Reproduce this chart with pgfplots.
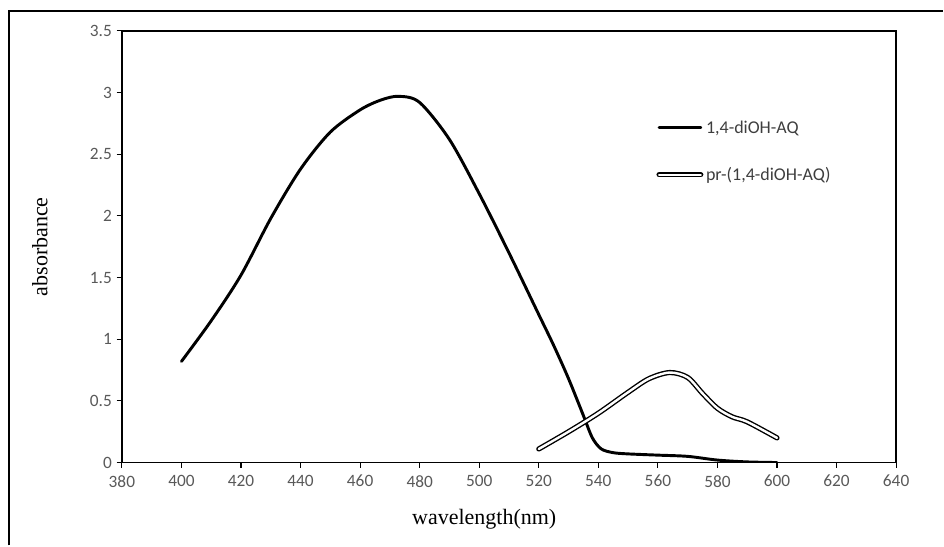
\documentclass[border=0pt]{standalone}
\usepackage{pgfplots}
\pgfplotsset{compat=1.18}
\usepackage{fontspec}
\setmainfont{Liberation Serif}
\newfontfamily\calib{Carlito}
\definecolor{tickgray}{HTML}{595959}
\begin{document}
\begin{tikzpicture}
\begin{axis}[
  name=ax,
  scale only axis,
  width=581.25pt, height=324pt,
  xmin=380, xmax=640, ymin=0, ymax=3.5,
  xtick={380,400,...,640},
  ytick={0,0.5,...,3.5},
  yticklabels={0,0.5,1,1.5,2,2.5,3,3.5},
  xtick pos=bottom, ytick pos=left,
  tick align=outside,
  major tick length=4pt,
  tick style={black, line width=0.8pt},
  axis line style={line width=1.2pt},
  /pgf/number format/assume math mode=true,
  ticklabel style={font=\calib\fontsize{13}{15}\selectfont, text=tickgray},
  xticklabel style={yshift=-2pt},
  xlabel={wavelength(nm)},
  ylabel={absorbance},
  xlabel style={at={(axis description cs:0.468,-0.132)}, anchor=center, font=\fontsize{16.5}{18}\selectfont},
  ylabel style={at={(axis description cs:-0.1058,0.5)}, anchor=center, font=\fontsize{16.5}{18}\selectfont},
  legend style={at={(axis description cs:0.685,0.805)}, anchor=north west, draw=none, fill=none,
    font=\calib\fontsize{13.5}{15}\selectfont, text=tickgray!70!black, row sep=20pt,
    /tikz/every even column/.append style={column sep=0pt}},
  legend cell align=left,
  legend image code/.code={\draw[#1] (0cm,0cm) -- (1.1cm,0cm);},
]
\addplot[black, line width=2.2pt, line cap=round, smooth] coordinates {
(400,0.82) (410,1.15) (420,1.52) (430,1.98) (440,2.38) (450,2.68) (460,2.86)
(467,2.94) (473,2.97) (480,2.92) (490,2.62) (500,2.18) (510,1.70) (520,1.20)
(525,0.95) (530,0.68) (535,0.38) (538,0.20) (541,0.11) (545,0.08) (550,0.07) (560,0.06)
(570,0.05) (580,0.02) (590,0.005) (600,0.0)
};
\addlegendentry{1,4-diOH-AQ}
\addplot[black, line width=1.05pt, double=white, double distance=1.8pt, line cap=round, smooth] coordinates {
(520,0.11) (530,0.25) (540,0.40) (550,0.57) (557,0.68) (564,0.73) (570,0.69)
(575,0.56) (580,0.44) (585,0.37) (590,0.33) (600,0.20)
};
\addlegendentry{pr-(1,4-diOH-AQ)}
\end{axis}
\pgfresetboundingbox
\path ([shift={(-91.5pt,-62.25pt)}]ax.south west) rectangle ([shift={(35.25pt,23.25pt)}]ax.north east);
\draw[line width=1.4pt] ([shift={(-84.75pt,-62.25pt)}]ax.south west) -- ([shift={(-84.75pt,15pt)}]ax.north west) -- ([shift={(35.25pt,15pt)}]ax.north east);
\end{tikzpicture}
\end{document}
